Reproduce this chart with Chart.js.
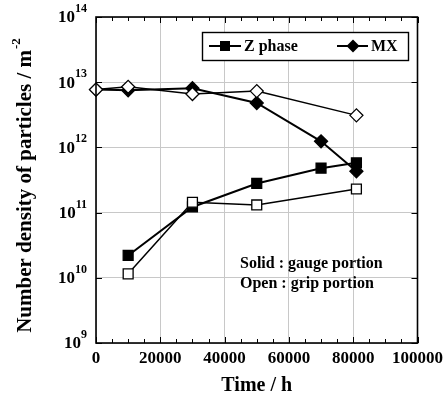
<!DOCTYPE html>
<html>
<head>
<meta charset="utf-8">
<script src="https://cdn.jsdelivr.net/npm/chart.js@4/dist/chart.umd.min.js"></script>
<style>
  html, body { margin: 0; padding: 0; background: #fff; }
  #wrap { width: 448px; height: 402px; }
</style>
</head>
<body>
<div id="wrap"><canvas id="chart" width="448" height="402"></canvas></div>
<script>
// ---- data ----
const zGaugeTime = [10000, 30000, 50000, 70000, 81000];
const zGaugeDens = [2.2e10, 1.22e11, 2.8e11, 4.8e11, 5.8e11];
const zGripTime  = [10000, 30000, 50000, 81000];
const zGripDens  = [1.15e10, 1.44e11, 1.31e11, 2.3e11];
const mxGaugeTime = [0, 10000, 30000, 50000, 70000, 81000];
const mxGaugeDens = [7.7e12, 7.5e12, 8.1e12, 4.8e12, 1.24e12, 4.3e11];
const mxGripTime  = [0, 10000, 30000, 50000, 81000];
const mxGripDens  = [7.7e12, 8.5e12, 6.6e12, 7.3e12, 3.1e12];

const xTicks = [0, 20000, 40000, 60000, 80000, 100000];
const yTicks = [1e9, 1e10, 1e11, 1e12, 1e13, 1e14];

const FONT = "'Liberation Serif', 'Times New Roman', serif";

function pts(xs, ys) {
    return xs.map((x, i) => ({x: x, y: ys[i]}));
}

function series(label, xs, ys, style, filled, width, order) {
    return {
        label: label,
        data: pts(xs, ys),
        borderColor: '#000',
        borderWidth: width,
        pointStyle: style,
        pointRadius: style === 'rect' ? 7 : 6.5,
        pointBorderWidth: 1.3,
        pointBackgroundColor: filled ? '#000' : '#fff',
        pointBorderColor: '#000',
        tension: 0,
        clip: false,
        order: order
    };
}

// draws axis tick marks, frame, y labels, titles, legend and note
const decorations = {
    id: 'decorations',
    afterDraw(chart) {
        const ctx = chart.ctx;
        const a = chart.chartArea;
        const xs = chart.scales.x, ys = chart.scales.y;
        ctx.save();
        ctx.strokeStyle = '#000';
        ctx.lineWidth = 1;
        // x ticks (major every 20000, minor every 5000), top and bottom, inward
        for (let v = 0; v <= 100000; v += 5000) {
            const px = Math.round(xs.getPixelForValue(v)) + 0.5;
            const len = v % 20000 === 0 ? 6 : 4;
            ctx.beginPath();
            ctx.moveTo(px, a.bottom); ctx.lineTo(px, a.bottom - len);
            ctx.moveTo(px, a.top); ctx.lineTo(px, a.top + len);
            ctx.stroke();
        }
        // y ticks at decades, left and right
        yTicks.forEach(v => {
            const py = Math.round(ys.getPixelForValue(v)) + 0.5;
            ctx.beginPath();
            ctx.moveTo(a.left, py); ctx.lineTo(a.left + 6, py);
            ctx.moveTo(a.right, py); ctx.lineTo(a.right - 6, py);
            ctx.stroke();
        });
        // frame
        ctx.lineWidth = 1.6;
        ctx.strokeRect(a.left, a.top, a.right - a.left, a.bottom - a.top);

        // y tick labels 10^n
        ctx.fillStyle = '#000';
        ctx.textBaseline = 'middle';
        yTicks.forEach(v => {
            const py = ys.getPixelForValue(v);
            const exp = String(Math.round(Math.log10(v)));
            ctx.font = 'bold 12px ' + FONT;
            const ew = ctx.measureText(exp).width;
            const right = a.left - 9;
            ctx.textAlign = 'left';
            ctx.fillText(exp, right - ew, py - 8);
            ctx.font = 'bold 17px ' + FONT;
            ctx.textAlign = 'right';
            ctx.fillText('10', right - ew, py + 1);
        });

        // y title with superscript
        ctx.save();
        ctx.translate(26, (a.top + a.bottom) / 2 + 6);
        ctx.rotate(-Math.PI / 2);
        ctx.font = 'bold 21px ' + FONT;
        const main = 'Number density of particles / m';
        const mw = ctx.measureText(main).width;
        ctx.font = 'bold 13px ' + FONT;
        const sw = ctx.measureText('-2').width;
        const start = -(mw + sw) / 2;
        ctx.font = 'bold 21px ' + FONT;
        ctx.textAlign = 'left';
        ctx.fillText(main, start, 0);
        ctx.font = 'bold 13px ' + FONT;
        ctx.fillText('-2', start + mw + 1, -9);
        ctx.restore();

        // x title
        ctx.font = 'bold 20px ' + FONT;
        ctx.textAlign = 'center';
        ctx.fillText('Time / h', (a.left + a.right) / 2, 386);

        // legend box
        ctx.fillStyle = '#fff';
        ctx.fillRect(202, 32, 206, 28);
        ctx.lineWidth = 1.4;
        ctx.strokeRect(202.5, 32.5, 206, 28);
        ctx.fillStyle = '#000';
        ctx.lineWidth = 2;
        const ly = 46;
        ctx.beginPath();
        ctx.moveTo(209, ly); ctx.lineTo(241, ly);
        ctx.moveTo(337, ly); ctx.lineTo(368, ly);
        ctx.stroke();
        ctx.fillRect(220, ly - 5, 10, 10);
        ctx.beginPath();
        ctx.moveTo(353, ly - 6.5); ctx.lineTo(359.5, ly);
        ctx.lineTo(353, ly + 6.5); ctx.lineTo(346.5, ly);
        ctx.closePath(); ctx.fill();
        ctx.font = 'bold 16px ' + FONT;
        ctx.textAlign = 'left';
        ctx.fillText('Z phase', 244, ly + 1);
        ctx.fillText('MX', 371, ly + 1);

        // note
        ctx.font = 'bold 16px ' + FONT;
        ctx.fillText('Solid : gauge portion', 240, 264);
        ctx.fillText('Open : grip portion', 240, 284);
        ctx.restore();
    }
};

const chart = new Chart(document.getElementById('chart').getContext('2d'), {
    type: 'line',
    data: {
        datasets: [
            series('Z phase grip', zGripTime, zGripDens, 'rect', false, 1.5, 1),
            series('MX grip', mxGripTime, mxGripDens, 'rectRot', false, 1.5, 2),
            series('Z phase gauge', zGaugeTime, zGaugeDens, 'rect', true, 2, 3),
            series('MX gauge', mxGaugeTime, mxGaugeDens, 'rectRot', true, 2, 4)
        ]
    },
    options: {
        responsive: false,
        animation: false,
        layout: {padding: {left: 0, right: 26, top: 17, bottom: 0}},
        plugins: {
            legend: {display: false},
            tooltip: {enabled: false},
            title: {display: false}
        },
        scales: {
            x: {
                type: 'linear',
                min: 0,
                max: 100000,
                afterBuildTicks: s => { s.ticks = xTicks.map(v => ({value: v})); },
                afterFit: s => { s.height = 59; },
                ticks: {
                    color: '#000',
                    padding: 5,
                    maxRotation: 0,
                    autoSkip: false,
                    font: {family: FONT, size: 17, weight: 'bold'},
                    callback: v => String(v)
                },
                grid: {color: '#c8c8c8', lineWidth: 1, drawTicks: false},
                border: {display: false}
            },
            y: {
                type: 'logarithmic',
                min: 1e9,
                max: 1e14,
                afterBuildTicks: s => { s.ticks = yTicks.map(v => ({value: v})); },
                afterFit: s => { s.width = 96; },
                ticks: {display: false},
                grid: {color: '#c8c8c8', lineWidth: 1, drawTicks: false},
                border: {display: false}
            }
        }
    },
    plugins: [decorations]
});
</script>
</body>
</html>
